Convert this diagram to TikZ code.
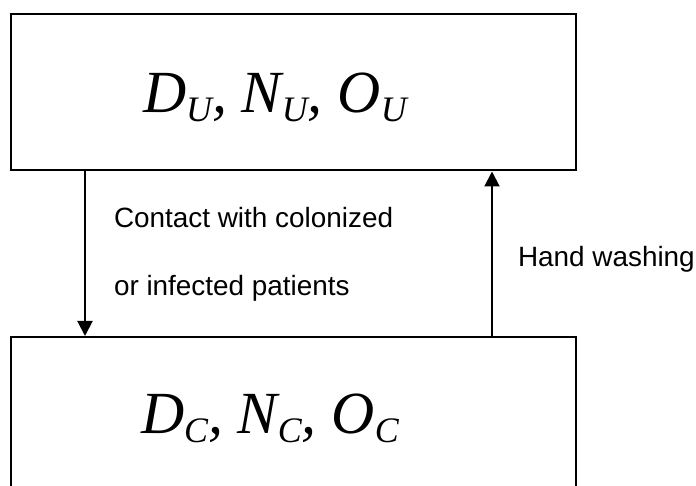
\documentclass[tikz,border=0pt]{standalone}
\usepackage{fontspec}
\setmainfont{Liberation Serif}
\setsansfont{Liberation Sans}
\usetikzlibrary{arrows.meta}
\tikzset{box/.style={draw,minimum width=565bp,inner sep=0},
	state/.style={anchor=base west,inner sep=0,font=\fontsize{60}{64}\selectfont\itshape},
	note/.style={anchor=base west,inner sep=0,font=\fontsize{28}{30}\selectfont\sffamily}}
\newcommand{\lowsub}[1]{\raisebox{-9bp}{\fontsize{36}{36}\selectfont #1}}

\begin{document}
\begin{tikzpicture}[>={Triangle[length=15bp,width=15bp]},x=1bp,y=-1bp,line width=2bp]
	\useasboundingbox (0,0) rectangle (696,486);
	\clip (0,0) rectangle (696,486);
	\node[box,minimum height=156bp] (uncol) at (293.5,92.5) {};
	\node[box,minimum height=200bp] (col) at (293.5,437) {};
	\node[state] (su) at (142,113) {D\lowsub{U}, N\lowsub{U}, O\lowsub{U}};
	\node[state] (sc) at (140,433) {D\lowsub{C}, N\lowsub{C}, O\lowsub{C}};
	\draw[->] ([xshift=75bp]uncol.south west) -- ([xshift=75bp]col.north west);
	\draw[->] ([xshift=-85bp]col.north east) -- ([xshift=-85bp]uncol.south east);
	\node[note] (contact) at (113,228) {Contact with colonized};
	\node[note] (infected) at (113,295) {or infected patients};
	\node[note] (wash) at (517,267) {Hand washing};
\end{tikzpicture}
\end{document}
